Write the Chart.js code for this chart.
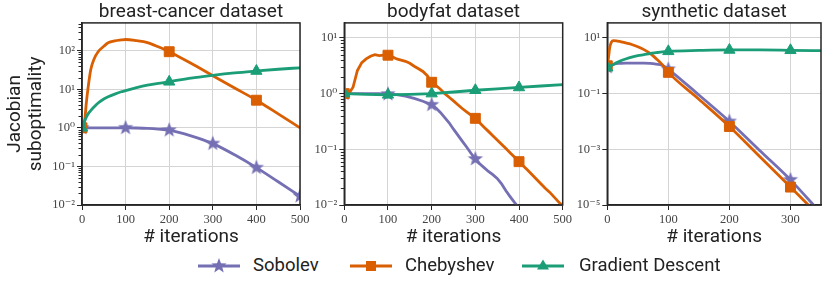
<!DOCTYPE html>
<html lang="en">
<head>
<meta charset="UTF-8">
<script src="https://cdn.jsdelivr.net/npm/chart.js"></script>
<title>Jacobian suboptimality</title>
<style>
  body { margin: 0; background: #fff; }
  #wrap { position: relative; width: 830px; height: 288px; background: #fff; overflow: hidden; }
  #wrap canvas { position: absolute; top: 0; }
  .leg { position: absolute; top: 255px; height: 22px; font: 18.5px Roboto, sans-serif; color: #222; line-height: 20px; white-space: nowrap; }
  .leg svg { position: absolute; left: 0; top: 1px; }
  .leg span { position: absolute; top: 0; }
</style>
</head>
<body>
<div id="wrap">
  <canvas id="c1" width="320" height="250" style="left:0"></canvas>
  <canvas id="c2" width="290" height="250" style="left:290px"></canvas>
  <canvas id="c3" width="270" height="250" style="left:560px"></canvas>
</div>
<script>
// ---- data ----
const names = ['Sobolev', 'Chebyshev', 'Gradient Descent'];
const colors = ['#7570b3', '#d95f02', '#1b9e77'];

// breast-cancer
const it1 = [0, 3, 6, 10, 14, 20, 28, 37, 50, 60, 75, 90, 100, 125, 150, 175, 200, 250, 300, 350, 400, 450, 500];
const sob1 = [1, 1, 1, 1, 1, 1, 1, 1, 1, 1, 1, 1, 1.0, 0.99, 0.97, 0.93, 0.87, 0.62, 0.39, 0.2, 0.093, 0.04, 0.017];
const cheb1 = [1, 1.1, 1.5, 4.5, 11, 32, 62, 94, 130, 160, 180, 190, 195, 182, 162, 126, 94, 47, 22.5, 10.8, 5.2, 2.3, 1.0];
const gd1 = [1, 1.2, 1.5, 1.9, 2.3, 2.8, 3.5, 4.4, 5.6, 6.4, 7.5, 8.6, 9.2, 11, 12.8, 14.3, 15.6, 19.5, 23, 26.5, 29.7, 33, 36];

// bodyfat
const its2 = [0, 20, 40, 60, 80, 100, 120, 140, 160, 180, 200, 210, 220, 230, 240, 250, 260, 270, 280, 290,
  300, 310, 320, 330, 340, 350, 360, 370, 380, 390, 400, 420, 450];
const sob2 = [1, 1, 1, 1, 1, 0.98, 0.96, 0.9, 0.82, 0.73, 0.63, 0.55, 0.46, 0.37, 0.3, 0.23, 0.18, 0.14, 0.11, 0.085,
  0.067, 0.055, 0.047, 0.04, 0.035, 0.03, 0.024, 0.018, 0.014, 0.011, 0.0088, 0.005, 0.002];
const itc2 = [0, 10, 20, 30, 40, 50, 60, 70, 80, 90, 100, 110, 120, 130, 140, 150, 160, 170, 180, 190,
  200, 210, 220, 230, 240, 250, 260, 270, 280, 290, 300, 310, 320, 330, 340, 350, 360, 370, 380, 390,
  400, 410, 420, 430, 440, 450, 460, 470, 480, 490, 500];
const cheb2 = [1.0, 1.0, 1.3, 2.6, 3.6, 4.2, 4.7, 5.0, 4.8, 4.9, 4.9, 4.6, 4.2, 4.0, 3.8, 3.5, 3.1, 2.8, 2.5, 2.1,
  1.6, 1.4, 1.2, 1.0, 0.86, 0.74, 0.63, 0.54, 0.47, 0.41, 0.36, 0.30, 0.25, 0.21, 0.176, 0.147, 0.123, 0.103, 0.086, 0.072,
  0.060, 0.050, 0.042, 0.035, 0.029, 0.024, 0.020, 0.017, 0.014, 0.0115, 0.0096];
const itg2 = [0, 50, 100, 150, 200, 250, 300, 350, 400, 450, 500];
const gd2 = [1.0, 0.97, 0.95, 0.97, 1.0, 1.07, 1.15, 1.22, 1.29, 1.37, 1.45];

// synthetic
const it3 = [0, 2, 4, 7, 10, 15, 20, 30, 40, 50, 60, 70, 80, 90, 100, 150, 200, 250, 300, 350];
const sob3 = [0.9, 0.98, 1.05, 1.1, 1.15, 1.2, 1.22, 1.25, 1.25, 1.25, 1.25, 1.22, 1.15, 1.05, 0.75, 0.089, 0.01, 8.9e-4, 8e-5, 5e-6];
const cheb3 = [1.0, 2.0, 4.5, 7.2, 8.0, 7.9, 7.5, 6.6, 5.8, 4.8, 3.8, 2.8, 1.8, 1.1, 0.58, 0.063, 0.0066, 5.4e-4, 4.4e-5, 3.5e-6];
const gd3 = [0.85, 0.9, 0.97, 1.03, 1.1, 1.28, 1.45, 1.75, 2.05, 2.3, 2.5, 2.75, 2.95, 3.15, 3.3, 3.55, 3.7, 3.7, 3.6, 3.5];

// tick labels
const xTicks1 = [0, 100, 200, 300, 400, 500];
const xTicks3 = [0, 100, 200, 300];
const yTicks1 = [1e-2, 1e-1, 1, 10, 100];
const yTicks2 = [1e-2, 1e-1, 1, 10];
const yTicks3 = [1e-5, 1e-3, 1e-1, 10];

// ---- helpers ----
const SUP = {'-': '\u207B', '0': '\u2070', '1': '\u00B9', '2': '\u00B2', '3': '\u00B3', '4': '\u2074', '5': '\u2075', '6': '\u2076', '7': '\u2077', '8': '\u2078', '9': '\u2079'};
const fmt = v => '10' + String(Math.round(Math.log10(v))).split('').map(c => SUP[c]).join('');

function starPts(r, cx, cy) {
  const p = [];
  for (let i = 0; i < 10; i++) {
    const rr = i % 2 ? r * 0.42 : r;
    const a = -Math.PI / 2 + i * Math.PI / 5;
    p.push([cx + rr * Math.cos(a), cy + rr * Math.sin(a)]);
  }
  return p;
}
function starImg(color, r) {
  const c = document.createElement('canvas');
  c.width = c.height = Math.ceil(r * 2 + 2);
  const g = c.getContext('2d');
  g.beginPath();
  starPts(r, c.width / 2, c.height / 2).forEach(([x, y], i) => i ? g.lineTo(x, y) : g.moveTo(x, y));
  g.closePath();
  g.fillStyle = color;
  g.fill();
  return c;
}
const star = starImg(colors[0], 8);

const frame = {
  id: 'frame',
  afterDraw(chart, args, opts) {
    const {ctx, chartArea: a} = chart;
    const y = chart.scales.y;
    ctx.save();
    ctx.strokeStyle = '#262626';
    ctx.lineWidth = 1.5;
    ctx.strokeRect(a.left, a.top, a.right - a.left, a.bottom - a.top);
    if (opts.minor) {
      ctx.lineWidth = 1;
      ctx.beginPath();
      for (let e = Math.floor(Math.log10(y.min)); e <= Math.ceil(Math.log10(y.max)); e++) {
        for (let m = 2; m <= 9; m++) {
          const v = m * Math.pow(10, e);
          if (v < y.min || v > y.max) continue;
          const py = Math.round(y.getPixelForValue(v)) + 0.5;
          ctx.moveTo(a.left - 3.5, py);
          ctx.lineTo(a.left, py);
        }
      }
      ctx.stroke();
    }
    ctx.restore();
  }
};

function series(k, xs, ys, marks, tension) {
  const styles = [star, 'rect', 'triangle'];
  const radii = [8, 7, 6.5];
  return {
    label: names[k],
    data: xs.map((x, i) => ({x: x, y: ys[i]})),
    borderColor: colors[k],
    backgroundColor: colors[k],
    borderWidth: 2.8,
    pointStyle: styles[k],
    pointRadius: c => marks.includes(xs[c.dataIndex]) ? radii[k] : 0,
    pointBorderWidth: 1,
    tension: tension,
    cubicInterpolationMode: tension ? 'monotone' : 'default',
    order: 3 - k
  };
}

const tickFont = {family: '"Liberation Serif", "DejaVu Serif", serif', size: 12.5};
const labFont = {family: 'Roboto, sans-serif', size: 19, weight: 'normal', lineHeight: 1.1};

function panel(id, title, datasets, xMax, xTicks, yMin, yMax, yTicks, yW, padR, minor, yTitle) {
  new Chart(document.getElementById(id), {
    type: 'line',
    data: {datasets: datasets},
    options: {
      responsive: false,
      animation: false,
      events: [],
      layout: {padding: {left: 0, right: padR, top: 0, bottom: 0}},
      plugins: {
        legend: {display: false},
        tooltip: {enabled: false},
        title: {display: true, text: title, font: labFont, color: '#222', padding: {top: 2, bottom: 0}, fullSize: false},
        frame: {minor: minor}
      },
      scales: {
        x: {
          type: 'linear', min: 0, max: xMax, bounds: 'data',
          afterBuildTicks: s => { s.ticks = xTicks.map(v => ({value: v})); },
          afterFit: s => { s.height = 45; },
          ticks: {font: tickFont, color: '#444', padding: 2, maxRotation: 0, autoSkip: false},
          grid: {color: '#d4d4d4', lineWidth: 1, tickColor: '#262626', tickLength: 5},
          border: {color: '#262626', width: 1.5},
          title: {display: true, text: '# iterations', font: labFont, color: '#222', padding: {top: 0, bottom: 2}}
        },
        y: {
          type: 'logarithmic', min: yMin, max: yMax, bounds: 'data',
          afterBuildTicks: s => { s.ticks = yTicks.map(v => ({value: v})); },
          afterFit: s => { s.width = yW; },
          ticks: {font: tickFont, color: '#444', padding: 2, autoSkip: false, callback: v => fmt(v)},
          grid: {color: '#d4d4d4', lineWidth: 1, tickColor: '#262626', tickLength: 5},
          border: {color: '#262626', width: 1.5},
          title: {display: !!yTitle, text: yTitle || '', font: labFont, color: '#222', padding: {top: 5, bottom: 0}}
        }
      }
    },
    plugins: [frame]
  });
}

panel('c1', 'breast-cancer dataset', [
  series(0, it1, sob1, [0, 100, 200, 300, 400, 500], 0.4),
  series(1, it1, cheb1, [0, 200, 400], 0.4),
  series(2, it1, gd1, [0, 200, 400], 0.4)
], 500, xTicks1, 1e-2, Math.pow(10, 2.72), yTicks1, 82, 20, true, ['Jacobian', 'suboptimality']);

panel('c2', 'bodyfat dataset', [
  series(0, its2, sob2, [0, 100, 200, 300], 0),
  series(1, itc2, cheb2, [0, 100, 200, 300, 400], 0),
  series(2, itg2, gd2, [0, 100, 200, 300, 400], 0)
], 500, xTicks1, 1e-2, Math.pow(10, 1.27), yTicks2, 54.3, 17.3, true, null);

panel('c3', 'synthetic dataset', [
  series(0, it3, sob3, [0, 100, 200, 300], 0.4),
  series(1, it3, cheb3, [0, 100, 200, 300], 0.4),
  series(2, it3, gd3, [0, 100, 200, 300], 0.4)
], 350, xTicks3, 1e-5, Math.pow(10, 1.54), yTicks3, 47.3, 3.3, false, null);

// ---- legend ----
const legX = [197, 349, 521];
const wrap = document.getElementById('wrap');
names.forEach((n, k) => {
  const d = document.createElement('div');
  d.className = 'leg';
  d.style.left = legX[k] + 'px';
  const c = colors[k];
  let mk;
  if (k === 0) mk = '<polygon fill="' + c + '" points="' + starPts(8, 22, 10).map(p => p.join(',')).join(' ') + '"/>';
  else if (k === 1) mk = '<rect x="17" y="5" width="10" height="10" fill="' + c + '"/>';
  else mk = '<polygon fill="' + c + '" points="22,3.5 28,13.5 16,13.5"/>';
  d.innerHTML = '<svg width="44" height="20"><line x1="1" y1="10" x2="43" y2="10" stroke="' + c + '" stroke-width="2.8"/>' + mk + '</svg>' +
    '<span style="left:' + (k === 2 ? 58 : 56) + 'px">' + n + '</span>';
  wrap.appendChild(d);
});
</script>
</body>
</html>
